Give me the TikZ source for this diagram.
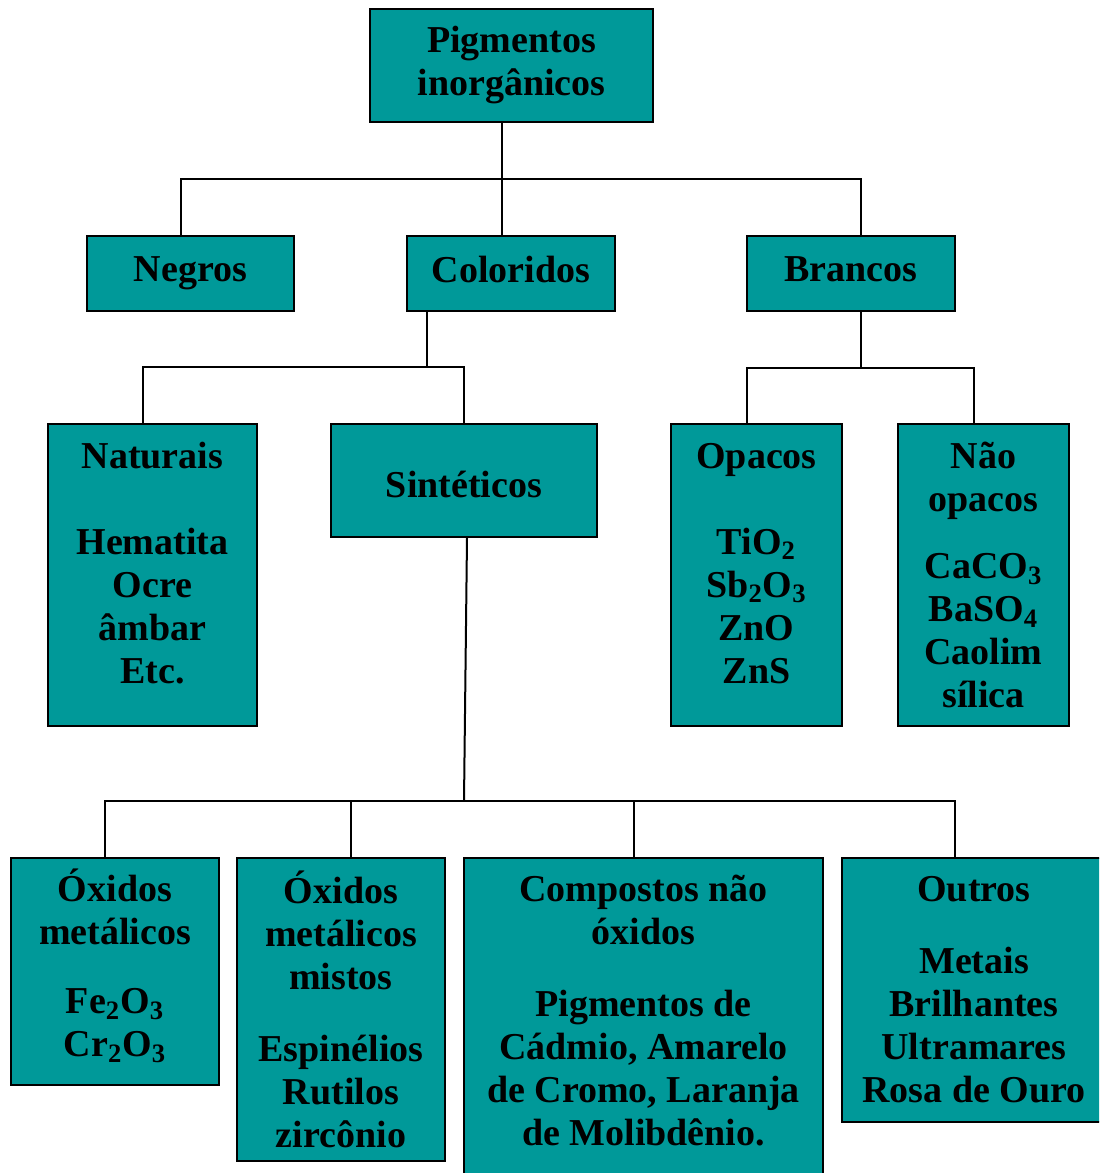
\documentclass[tikz,border=0pt]{standalone}
\usepackage{fontspec}
\setmainfont{Liberation Serif}
\definecolor{verde}{RGB}{0,153,153}
\tikzset{caixa/.style={draw=black, line width=1pt, fill=verde, inner sep=0pt, align=center,
  font=\fontsize{19}{21.5}\selectfont\bfseries},
  texto/.style={inner sep=0pt, align=center, font=\fontsize{19}{21.5}\selectfont\bfseries}}
\begin{document}
\begin{tikzpicture}[x=0.5pt,y=-0.5pt, line width=1pt]
\useasboundingbox (0,0) rectangle (1099,1173);
\clip (0,0) rectangle (1099,1173);

\node[caixa, minimum width=141.5pt, minimum height=56.5pt] (top) at (511.5,65.5) {Pigmentos\\inorgânicos};

\node[caixa, minimum width=103.5pt, minimum height=37.5pt, text depth=4.5pt] (negros) at (190.5,273.5) {Negros};
\node[caixa, minimum width=104pt, minimum height=37.5pt, text depth=4.5pt] (coloridos) at (511,273.5) {Coloridos};
\node[caixa, minimum width=104pt, minimum height=37.5pt, text depth=4.5pt] (brancos) at (851,273.5) {Brancos};

\node[caixa, minimum width=104.5pt, minimum height=151pt] (naturais) at (152.5,575) {Naturais\\[21.5pt]Hematita\\Ocre\\âmbar\\Etc.\rule[-12pt]{0pt}{0pt}};
\node[caixa, minimum width=133pt, minimum height=56.5pt, text height=17pt] (sinteticos) at (464,480.5) {Sintéticos};
\node[caixa, minimum width=85.5pt, minimum height=151pt] (opacos) at (756.5,575) {Opacos\\[21.5pt]TiO\textsubscript{2}\\Sb\textsubscript{2}O\textsubscript{3}\\ZnO\\ZnS\rule[-12pt]{0pt}{0pt}};
\node[caixa, minimum width=85.5pt, minimum height=151pt] (naoopacos) at (983.5,575) {Não\\opacos\\[12pt]CaCO\textsubscript{3}\\BaSO\textsubscript{4}\\Caolim\\sílica};

\node[caixa, minimum width=104pt, minimum height=113.5pt] (oxidos) at (115,971.5) {Óxidos\\metálicos\\[13pt]Fe\textsubscript{2}O\textsubscript{3}\\Cr\textsubscript{2}O\textsubscript{3}\rule[-9pt]{0pt}{0pt}};
\node[caixa, minimum width=104pt, minimum height=151.5pt] (mistos) at (341,1009.5) {Óxidos\\metálicos\\mistos\\[14.5pt]Espinélios\\Rutilos\\zircônio};
\node[caixa, minimum width=179.5pt, minimum height=166pt] (comp) at (643.5,1024) {};
\node[texto] (comptxt) at (643.5,1011) {Compostos não\\óxidos\\[14.5pt]Pigmentos de\\Cádmio, Amarelo\\de Cromo, Laranja\\de Molibdênio.};
\node[caixa, minimum width=132pt, minimum height=132pt] (outros) at (974,990) {Outros\\[14.5pt]Metais\\Brilhantes\\Ultramares\\Rosa de Ouro};

% ligacoes
\draw (top.south -| 502,0) -- (502,179);
\draw (negros.north -| 181,0) |- (861,179) -- (brancos.north -| 861,0);
\draw (coloridos.north -| 502,0) -- (502,179);

\draw (coloridos.south -| 427,0) -- (427,367);
\draw (naturais.north -| 143,0) |- (sinteticos.north |- 0,367) -- (sinteticos.north);
\draw (brancos.south -| 861,0) -- (861,368);
\draw (opacos.north -| 747,0) |- (974,368) -- (naoopacos.north -| 974,0);

\draw (sinteticos.south -| 467,0) -- (464,801);
\draw (oxidos.north -| 105,0) |- (955,801) -- (outros.north -| 955,0);
\draw (mistos.north -| 351,0) -- (351,801);
\draw (comp.north -| 634,0) -- (634,801);
\end{tikzpicture}
\end{document}
